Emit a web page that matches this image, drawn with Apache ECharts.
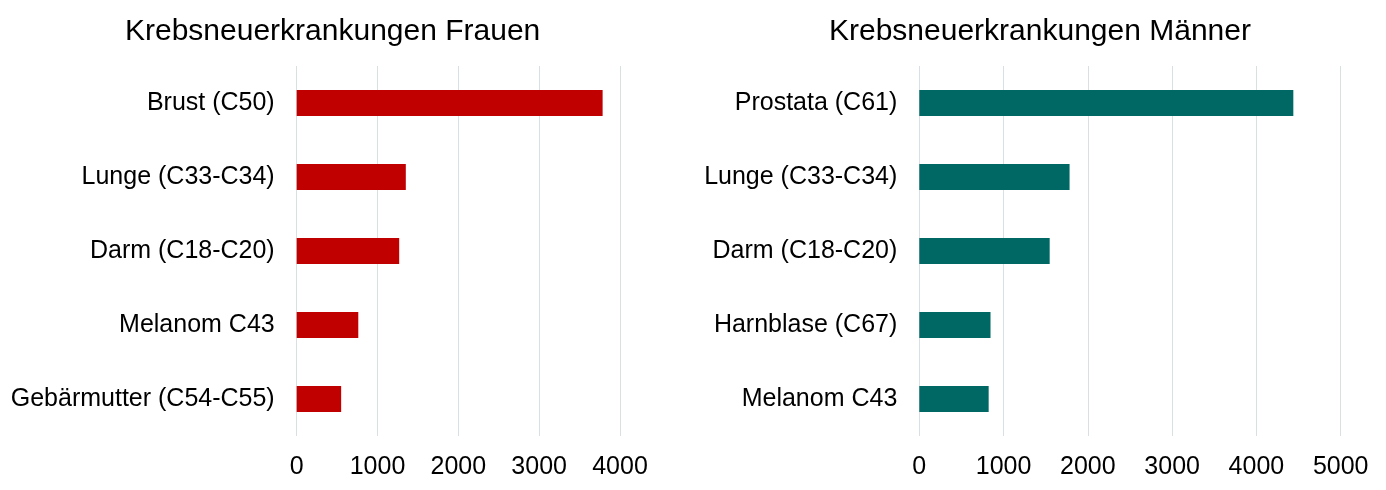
<!DOCTYPE html>
<html lang="de">
<head>
    <meta charset="UTF-8">
    <title>Krebsneuerkrankungen</title>
    <script src="https://cdn.jsdelivr.net/npm/echarts@6/dist/echarts.min.js"></script>
    <style>
        html, body { margin: 0; padding: 0; background: #fff; }
        #chart { width: 1386px; height: 490px; }
    </style>
</head>
<body>
    <div id="chart"></div>

    <script>
        // Daten: Frauen
        const frauenKategorien = ['Brust (C50)', 'Lunge (C33-C34)', 'Darm (C18-C20)', 'Melanom C43', 'Gebärmutter (C54-C55)'];
        const frauenWerte = [3785, 1350, 1268, 762, 550];

        // Daten: Männer
        const maennerKategorien = ['Prostata (C61)', 'Lunge (C33-C34)', 'Darm (C18-C20)', 'Harnblase (C67)', 'Melanom C43'];
        const maennerWerte = [4438, 1783, 1547, 845, 823];

        const fontFamily = "'Liberation Sans', Arial, sans-serif";
        const gridColor = '#d9e0e4';

        const chart = echarts.init(document.getElementById('chart'));

        function valueAxis(gridIndex, max) {
            return {
                type: 'value',
                gridIndex: gridIndex,
                min: 0,
                max: max,
                interval: 1000,
                axisLine: { show: false },
                axisTick: { show: false },
                splitLine: { show: true, lineStyle: { color: gridColor, width: 1 } },
                axisLabel: {
                    color: '#000', fontSize: 25, fontFamily: fontFamily, margin: 19,
                    formatter: v => String(v) // ohne Tausendertrennzeichen
                }
            };
        }

        function categoryAxis(gridIndex, data) {
            return {
                type: 'category',
                gridIndex: gridIndex,
                data: data,
                inverse: true,
                axisLine: { show: false },
                axisTick: { show: false },
                axisLabel: { color: '#000', fontSize: 25, fontFamily: fontFamily, margin: 22 }
            };
        }

        const option = {
            animation: false,
            title: [
                {
                    text: 'Krebsneuerkrankungen Frauen',
                    left: 125,
                    top: 17,
                    padding: 0,
                    textStyle: { color: '#000', fontSize: 30, fontWeight: 'normal', fontFamily: fontFamily }
                },
                {
                    text: 'Krebsneuerkrankungen Männer',
                    left: 829,
                    top: 17,
                    padding: 0,
                    textStyle: { color: '#000', fontSize: 30, fontWeight: 'normal', fontFamily: fontFamily }
                }
            ],
            grid: [
                { left: 296.7, width: 323.3, top: 66, height: 370 },
                { left: 919.3, width: 421.4, top: 66, height: 370 }
            ],
            xAxis: [valueAxis(0, 4000), valueAxis(1, 5000)],
            yAxis: [categoryAxis(0, frauenKategorien), categoryAxis(1, maennerKategorien)],
            series: [
                {
                    type: 'bar',
                    xAxisIndex: 0,
                    yAxisIndex: 0,
                    data: frauenWerte,
                    barWidth: 26,
                    itemStyle: { color: '#c00000' }
                },
                {
                    type: 'bar',
                    xAxisIndex: 1,
                    yAxisIndex: 1,
                    data: maennerWerte,
                    barWidth: 26,
                    itemStyle: { color: '#006864' }
                }
            ]
        };
        chart.setOption(option);
    </script>
</body>
</html>
